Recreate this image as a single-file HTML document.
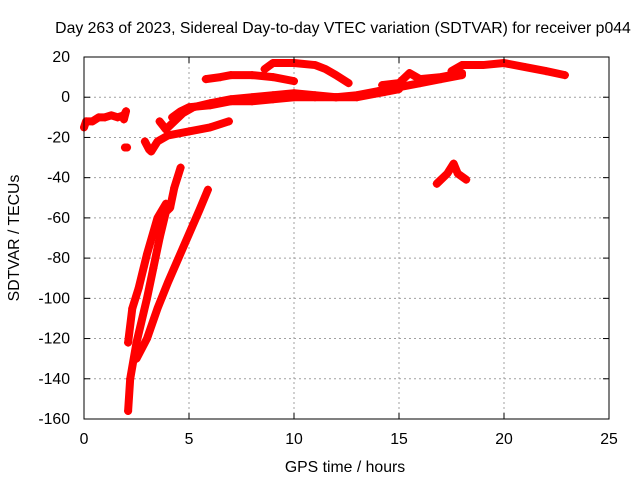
<!DOCTYPE html>
<html><head><meta charset="utf-8"><style>
body{margin:0;background:#fff}
svg{display:block;font-family:"Liberation Sans",sans-serif;font-size:15.8px}
</style></head><body>
<svg id="chart" width="640" height="480">
<text x="343" y="33" text-anchor="middle">Day 263 of 2023, Sidereal Day-to-day VTEC variation (SDTVAR) for receiver p044</text>
<text x="345" y="472" text-anchor="middle">GPS time / hours</text>
<text transform="translate(19,238) rotate(-90)" text-anchor="middle">SDTVAR / TECUs</text>
<g id="grid"></g><g id="marks"></g><g id="axes"></g>
</svg>
<script>
const xTicks=[0,5,10,15,20,25];
const yTicks=[20,0,-20,-40,-60,-80,-100,-120,-140,-160];
const track1=[[0,-15],[0.1,-12],[0.4,-12],[0.7,-10],[1,-10],[1.3,-9],[1.6,-10],[1.9,-9],[2,-7],[1.9,-11]];
const track2=[[1.95,-25],[2.05,-25]];
const track3=[[2.9,-22],[3.1,-26],[3.2,-27],[3.5,-22],[4,-19],[5,-17],[6,-15],[6.9,-12]];
const track4=[[3.6,-12],[3.9,-16],[4.2,-13],[4.7,-8],[5.2,-5],[6,-3],[7,-1],[8,0],[9,1],[10,2],[11,1],[12,0],[13,1],[14,3],[15,5],[16,7],[17,9],[18,11]];
const track5=[[4.2,-10],[4.6,-7],[5,-5],[6,-4],[7,-2],[8,-2],[9,-1],[10,0],[11,0],[12,0],[13,0],[14,2],[15,4]];
const track6=[[5.8,9],[6.5,10],[7,11],[8,11],[9,10],[10,8]];
const track7=[[8.6,14],[9,17],[10,17],[11,16],[11.5,14],[12,11],[12.6,7]];
const track8=[[14.2,6],[15,7],[15.5,12],[16,9],[17,10],[18,12]];
const track9=[[17.5,13],[18,16],[19,16],[20,17],[21,15],[22,13],[22.9,11]];
const track10=[[16.8,-43],[17.3,-38],[17.6,-33],[17.8,-38],[18.2,-41]];
const trackA=[[2.1,-156],[2.2,-140],[2.5,-122],[3,-100],[3.3,-85],[3.6,-70],[3.9,-57],[4.1,-55],[4.3,-45],[4.6,-35]];
const trackB=[[2.1,-122],[2.3,-105],[2.6,-95],[3,-78],[3.5,-60],[3.9,-53]];
const trackC=[[2.5,-130],[3,-120],[3.5,-105],[4,-92],[4.5,-80],[5,-68],[5.5,-56],[5.9,-46]];
const series=[track1,track2,track3,track4,track5,track6,track7,track8,track9,track10,trackA,trackB,trackC];
const X0=84,X1=609,Y0=57,Y1=419;
const sx=v=>X0+(v-0)/(25-0)*(X1-X0);
const sy=v=>Y0+(20-v)/(20+160)*(Y1-Y0);
const NS="http://www.w3.org/2000/svg";
function mk(t,a,p){const e=document.createElementNS(NS,t);for(const k in a)e.setAttribute(k,a[k]);p.appendChild(e);return e;}
const grid=document.getElementById('grid'),axes=document.getElementById('axes'),marks=document.getElementById('marks');
xTicks.forEach(v=>{const x=sx(v);
 if(v>0&&v<25){const g=mk('line',{x1:x,x2:x,y1:Y0,y2:Y1,stroke:'#a0a0a0','stroke-dasharray':'2,3'},grid);
 
 }
 mk('line',{x1:x,x2:x,y1:Y1,y2:Y1-6,stroke:'#000'},axes);
 mk('line',{x1:x,x2:x,y1:Y0,y2:Y0+6,stroke:'#000'},axes);
 const t=mk('text',{x:x,y:444,'text-anchor':'middle'},axes);t.textContent=v;
 
 });
yTicks.forEach(v=>{const y=sy(v);
 if(v<20&&v>-160){const g=mk('line',{x1:X0,x2:X1,y1:y,y2:y,stroke:'#a0a0a0','stroke-dasharray':'2,3'},grid);
 
 }
 mk('line',{x1:X0,x2:X0+6,y1:y,y2:y,stroke:'#000'},axes);
 mk('line',{x1:X1,x2:X1-6,y1:y,y2:y,stroke:'#000'},axes);
 const t=mk('text',{x:70,y:y+5,'text-anchor':'end'},axes);t.textContent=v;
 
 });
const fr=mk('rect',{x:X0,y:Y0,width:X1-X0,height:Y1-Y0,fill:'none',stroke:'#000'},axes);


series.forEach(s=>{
 const pl=mk('polyline',{points:s.map(p=>sx(p[0])+','+sy(p[1])).join(' '),fill:'none',stroke:'#f00','stroke-width':8,'stroke-linejoin':'round','stroke-linecap':'round'},marks);
 
 
 s.forEach(p=>{const x=sx(p[0]),y=sy(p[1]);
  const m=mk('path',{d:`M${x-4},${y}H${x+4}M${x},${y-4}V${y+4}`,stroke:'#f00','stroke-width':1.5},marks);
  
  });
});
</script>
</body></html>
